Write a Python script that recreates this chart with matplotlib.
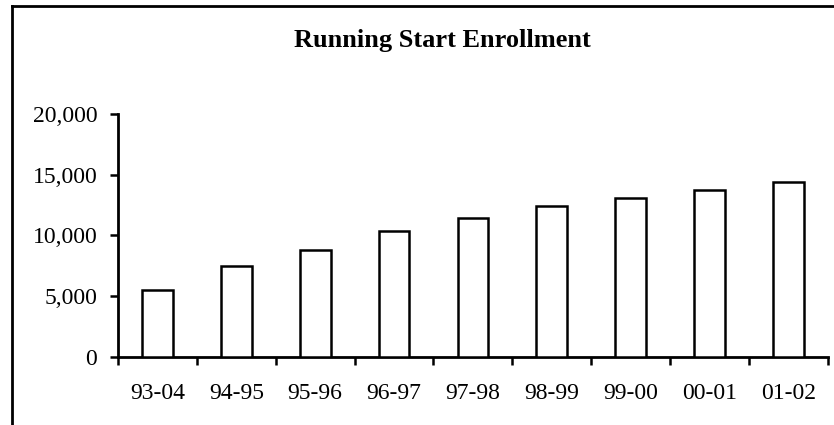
import matplotlib
matplotlib.use("Agg")
import matplotlib.pyplot as plt
from matplotlib.lines import Line2D
from matplotlib.ticker import FuncFormatter, FixedLocator
import numpy as np

categories = ["93-04", "94-95", "95-96", "96-97", "97-98", "98-99", "99-00", "00-01", "01-02"]
enrollment = [5550, 7500, 8770, 10370, 11470, 12430, 13110, 13740, 14400]
yticks = [0, 5000, 10000, 15000, 20000]
title = "Running Start Enrollment"

plt.rcParams['font.family'] = ['Liberation Serif', 'DejaVu Serif']

fig = plt.figure(figsize=(8.34, 4.25), dpi=100)
ax = fig.add_axes([0.1415, 0.16, 0.851, 0.572])

x = np.arange(len(categories))
ax.bar(x, enrollment, width=0.39, color='white', edgecolor='black', linewidth=1.8, zorder=3)

ax.set_xlim(-0.5, len(categories) - 0.5)
ax.set_ylim(0, 20000)
ax.set_yticks(yticks)
ax.yaxis.set_major_formatter(FuncFormatter(lambda v, p: f"{int(v):,}"))
ax.set_xticks(x)
ax.set_xticklabels(categories)
ax.xaxis.set_minor_locator(FixedLocator(np.arange(-0.5, len(categories), 1.0)))
ax.tick_params(axis='x', which='major', length=0, pad=19, labelsize=17)
ax.tick_params(axis='x', which='minor', length=6, width=1.8, direction='out')
ax.tick_params(axis='y', which='major', length=6, width=1.8, direction='out', pad=9, labelsize=17)

for s in ['top', 'right']:
    ax.spines[s].set_visible(False)
for s in ['left', 'bottom']:
    ax.spines[s].set_linewidth(2)
    ax.spines[s].set_color('black')

fig.text(0.53, 0.905, title, ha='center', va='center', fontsize=19, fontweight='bold')

# outer frame (top and left edges visible)
fig.add_artist(Line2D([12/834, 1.0], [1 - 6/425, 1 - 6/425], color='black', lw=2, transform=fig.transFigure))
fig.add_artist(Line2D([12/834, 12/834], [0, 1 - 6/425], color='black', lw=2, transform=fig.transFigure))

fig.savefig("out.png", dpi=100)
